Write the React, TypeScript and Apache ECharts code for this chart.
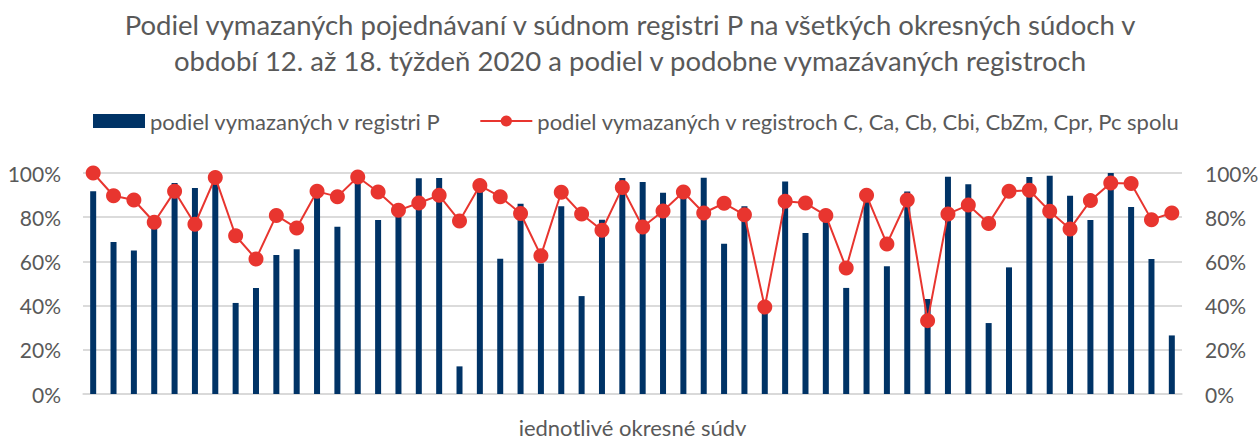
import React, { useEffect, useRef } from "react";
import * as echarts from "echarts";

const courts: string[] = Array.from({ length: 54 }, (_, i) => `Súd ${i + 1}`);

const shareP: number[] = [
  91.7, 68.8, 64.9, 76, 95.5, 93.2, 97, 41.2, 48, 62.9,
  65.5, 90, 75.7, 97, 78.7, 81, 97.6, 97.7, 12.5, 93,
  61.2, 86.1, 59, 84.9, 44.3, 78.9, 97.7, 95.9, 91.1, 89,
  97.9, 68.0, 85, 38, 96.1, 72.9, 82, 48.0, 88, 57.8,
  91.6, 43.0, 98.3, 94.9, 32.1, 57.3, 98.2, 98.8, 89.7, 78.7,
  100, 84.6, 61.1, 26.5,
];

const shareOther: number[] = [
  100, 89.7, 87.8, 77.7, 91.7, 76.8, 98.0, 71.6, 61.1, 80.8,
  75.1, 91.7, 89.3, 98.2, 91.4, 83.1, 86.4, 89.9, 78.3, 94.3,
  89.3, 81.7, 62.6, 91.3, 81.4, 74.1, 93.4, 75.6, 82.8, 91.4,
  81.9, 86.3, 81.1, 39.4, 87.2, 86.4, 80.8, 57.0, 89.9, 67.9,
  87.8, 33.2, 81.5, 85.5, 77.2, 91.7, 92.2, 82.7, 74.7, 87.5,
  95.5, 95.3, 78.9, 81.9,
];

const titleText =
  "Podiel vymazaných pojednávaní v súdnom registri P na všetkých okresných súdoch v\nobdobí 12. až 18. týždeň 2020 a podiel v podobne vymazávaných registroch";
const seriesNames: string[] = [
  "podiel vymazaných v registri P",
  "podiel vymazaných v registroch C, Ca, Cb, Cbi, CbZm, Cpr, Pc spolu",
];
const xAxisName = "jednotlivé okresné súdy";

const FONT = "Lato";
const GRAY = "#595959";

export default function App() {
  const ref = useRef<HTMLDivElement>(null);
  useEffect(() => {
    if (!ref.current) return;
    const chart = echarts.init(ref.current, undefined, { renderer: "svg" });
    const yAxisBase = {
      type: "value",
      min: 0,
      max: 100,
      interval: 20,
      axisLabel: {
        formatter: (v: number) => `${v}%`,
        color: GRAY,
        fontSize: 21,
        fontFamily: FONT,
        margin: 22,
      },
      axisLine: { show: false },
      axisTick: { show: false },
      splitLine: { lineStyle: { color: "#D9D9D9", width: 1.5 } },
    };
    chart.setOption({
      animation: false,
      backgroundColor: "#FFFFFF",
      title: {
        text: titleText,
        left: "center",
        top: 1,
        textStyle: {
          color: GRAY,
          fontSize: 27.5,
          fontWeight: "normal",
          fontFamily: FONT,
          lineHeight: 36,
        },
      },
      legend: {
        top: 105,
        left: 88,
        itemWidth: 52,
        itemHeight: 14,
        itemGap: 38,
        textStyle: { color: GRAY, fontSize: 22, fontFamily: FONT },
        data: [
          { name: seriesNames[0], icon: "rect" },
          { name: seriesNames[1] },
        ],
      },
      grid: { left: 83, right: 78, top: 173, bottom: 42, outerBoundsMode: "none" },
      xAxis: {
        type: "category",
        data: courts,
        name: xAxisName,
        nameLocation: "middle",
        nameGap: 22,
        nameTextStyle: { color: GRAY, fontSize: 22, fontFamily: FONT },
        axisLabel: { show: false },
        axisTick: { show: false },
        axisLine: { lineStyle: { color: "#D9D9D9", width: 1.5 } },
      },
      yAxis: [
        { ...yAxisBase, position: "left" },
        { ...yAxisBase, position: "right", axisLabel: { ...yAxisBase.axisLabel, margin: 23 } },
      ],
      series: [
        {
          name: seriesNames[0],
          type: "bar",
          data: shareP,
          barWidth: 6,
          itemStyle: { color: "#003366" },
        },
        {
          name: seriesNames[1],
          type: "line",
          data: shareOther,
          symbol: "circle",
          symbolSize: 15,
          showSymbol: true,
          showAllSymbol: true,
          itemStyle: { color: "#E8352F" },
          lineStyle: { color: "#E8352F", width: 2 },
        },
      ],
    });
    return () => chart.dispose();
  }, []);
  return (
    <div
      ref={ref}
      style={{ position: "fixed", left: 0, top: 0, width: 1260, height: 436 }}
    />
  );
}
